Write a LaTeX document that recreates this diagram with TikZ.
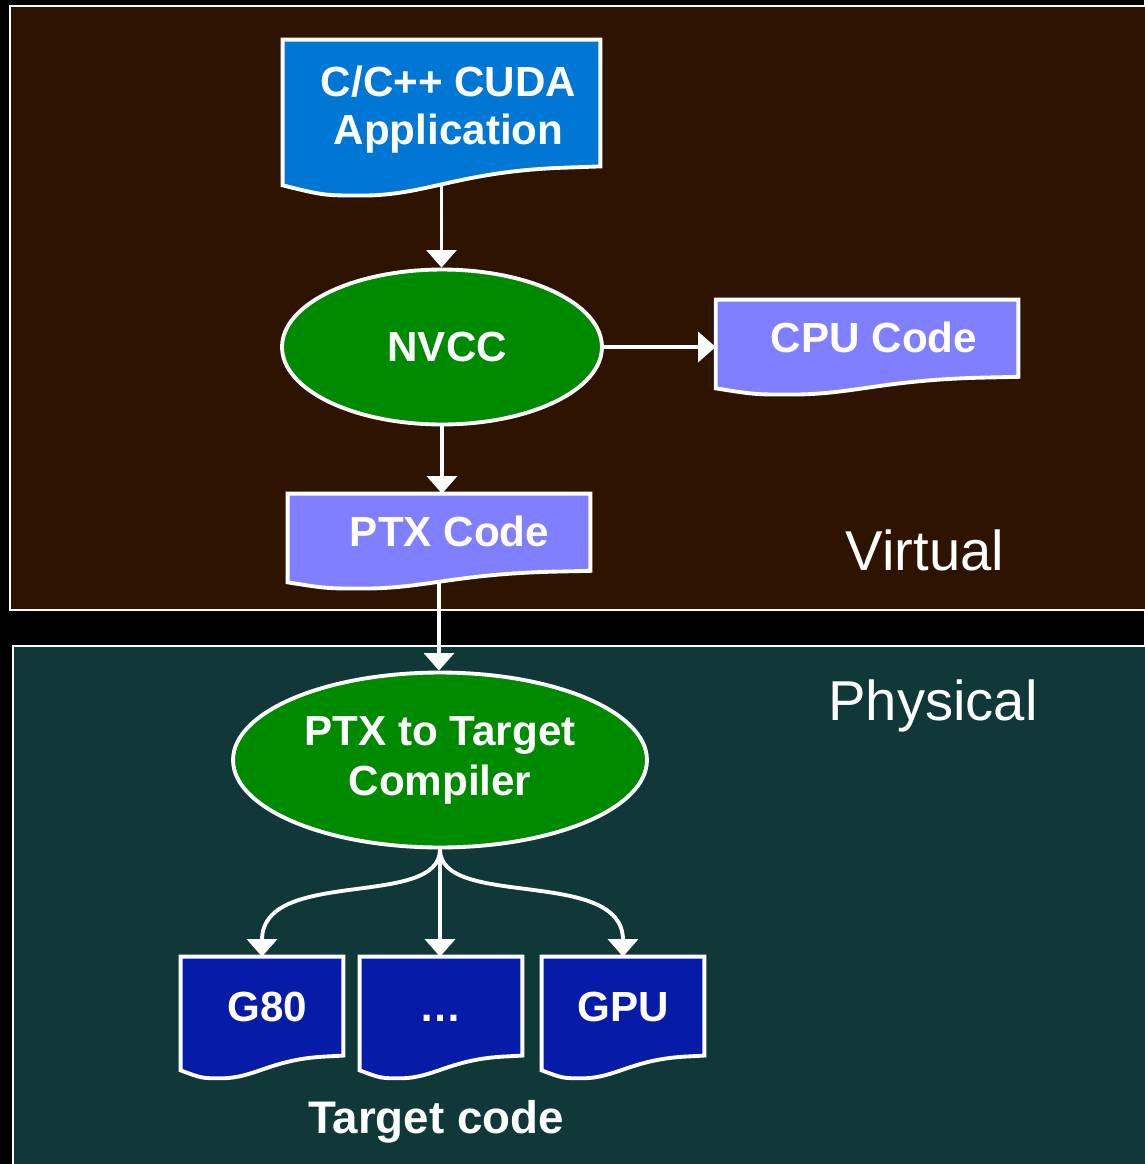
\documentclass[tikz,border=0pt]{standalone}
\usepackage{fontspec}
\setmainfont{Liberation Sans}
\usetikzlibrary{arrows.meta,shapes.geometric,calc}

\pgfdeclarelayer{background}
\pgfdeclarelayer{docs}
\pgfsetlayers{background,docs,main}

\definecolor{virtbrown}{HTML}{2E1300}
\definecolor{physteal}{HTML}{113838}
\definecolor{appblue}{HTML}{0077D4}
\definecolor{codelilac}{HTML}{7F7FFF}
\definecolor{tgtblue}{HTML}{061CA8}
\definecolor{nvgreen}{HTML}{008A00}

% sheet with a wavy lower edge, drawn behind the node #1
\newcommand{\docshape}[2]{%
  \begin{pgfonlayer}{docs}
  \filldraw[draw=white,line width=2.2pt,fill=#2]
    let \p1=(#1.south west), \p2=(#1.north east),
        \n1={\x2-\x1}, \n2={\y2-\y1} in
    (\x1,\y2) -- (\x2,\y2) -- (\x2,{\y1+0.13*\n2})
    -- ({\x1+0.87*\n1},{\y1+0.12*\n2})
    .. controls ({\x1+0.55*\n1},{\y1+0.09*\n2}) and ({\x1+0.45*\n1},{\y1-0.07*\n2}) .. ({\x1+0.25*\n1},{\y1-0.07*\n2})
    .. controls ({\x1+0.13*\n1},{\y1-0.07*\n2}) .. (\x1,\y1) -- cycle;
  \end{pgfonlayer}}

\begin{document}
\begin{tikzpicture}[x=0.02cm,y=-0.02cm,>={Triangle[width=17pt,length=10pt]},
  flow/.style={->,draw=white,line width=2.2pt},
  doc node/.style={rectangle,inner sep=0pt,text=white,align=center,text depth=8pt,
    font=\bfseries\fontsize{24}{27.5}\selectfont},
  tool node/.style={ellipse,draw=white,line width=2.2pt,fill=nvgreen,inner sep=0pt,
    text=white,align=center,font=\bfseries\fontsize{24}{28.5}\selectfont},
  region/.style={draw=white,line width=1.1pt}]

  \useasboundingbox (0,0) rectangle (1144,1164);

  \begin{pgfonlayer}{background}
    \fill[black] (0,0) rectangle (1144,1164);
    \filldraw[region,fill=virtbrown] (10,6) rectangle (1170,610);
    \filldraw[region,fill=physteal] (13,646) rectangle (1170,1190);
  \end{pgfonlayer}

  \node[doc node,minimum width=6.34cm,minimum height=2.9cm] (app) at (441.5,112.5) {\hspace{8pt}C/C++ CUDA\\\hspace{8pt}Application};
  \node[tool node,minimum width=6.4cm,minimum height=3.1cm] (nvcc) at (442,347) {\hspace{6pt}NVCC};
  \node[doc node,minimum width=6.04cm,minimum height=1.76cm] (cpu) at (867,344) {\hspace{8pt}CPU Code};
  \node[doc node,minimum width=6.04cm,minimum height=1.76cm] (ptx) at (439,538) {\hspace{12pt}PTX Code};
  \node[tool node,minimum width=8.28cm,minimum height=3.5cm] (comp) at (440,760) {PTX to Target\\Compiler};
  \node[doc node,minimum width=3.24cm,minimum height=2.26cm] (g80) at (262,1013.5) {\hspace{6pt}G80};
  \node[doc node,minimum width=3.24cm,minimum height=2.26cm] (dots) at (441,1013.5) {\vphantom{G}\dots};
  \node[doc node,minimum width=3.24cm,minimum height=2.26cm] (gpu) at (623,1013.5) {GPU};

  \docshape{app}{appblue}
  \docshape{cpu}{codelilac}
  \docshape{ptx}{codelilac}
  \docshape{g80}{tgtblue}
  \docshape{dots}{tgtblue}
  \docshape{gpu}{tgtblue}

  \node[text=white,font=\fontsize{32}{38}\selectfont] (virt) at (925,550) {Virtual};
  \node[text=white,font=\fontsize{32}{38}\selectfont] (phys) at (933,706) {Physical};
  \node[text=white,font=\bfseries\fontsize{26}{30}\selectfont] (tc) at (436,1122) {Target code};

  \draw[flow] (app.south) -- (app.south |- nvcc.north);
  \draw[flow] (nvcc.east) -- (nvcc.east -| cpu.west);
  \draw[flow] (nvcc.south) -- (nvcc.south |- ptx.north);
  \draw[flow] (ptx.south) -- (ptx.south |- comp.north);
  \draw[flow] (comp.south) .. controls +(0,60) and +(0,-90) .. (g80.north);
  \draw[flow] (comp.south) -- (comp.south |- dots.north);
  \draw[flow] (comp.south) .. controls +(0,60) and +(0,-90) .. (gpu.north);
\end{tikzpicture}
\end{document}
